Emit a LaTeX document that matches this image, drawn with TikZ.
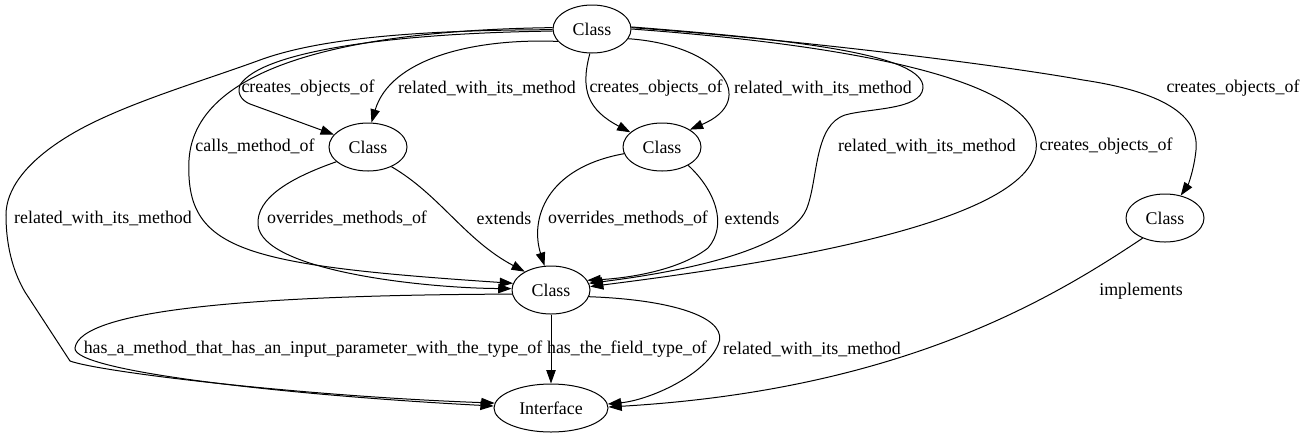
\documentclass[tikz,border=0pt]{standalone}
\usepackage{fontspec}
\setmainfont{Liberation Serif}
\usetikzlibrary{arrows.meta,shapes.geometric}
\tikzset{
  cls/.style={draw, ellipse, line width=0.75pt, minimum width=58.5pt, minimum height=36pt, inner sep=0pt, font=\fontsize{13.4}{16}\selectfont},
  lbl/.style={inner sep=0pt, font=\fontsize{13.4}{16}\selectfont},
  rel/.style={line width=0.75pt, -{Triangle[length=10pt,width=7pt]}},
}
\begin{document}
\begin{tikzpicture}[x=0.75pt,y=-0.75pt]
    \useasboundingbox (0,0) rectangle (1306,437);
    \node[cls] (tp) at (592,29) {Class};
    \node[cls] (lc) at (368,147) {Class};
    \node[cls] (mc) at (662,147) {Class};
    \node[cls] (rc) at (1165,218) {Class};
    \node[cls] (cc) at (551,290) {Class};
    \node[cls, minimum width=85.5pt] (ifc) at (551,408) {Interface};
    \foreach \n/\x/\y/\t in {1/308/88/creates\_objects\_of, 2/487/88/related\_with\_its\_method,
        3/656/88/creates\_objects\_of, 4/823/88/related\_with\_its\_method,
        5/255/146/calls\_method\_of, 6/927/146/related\_with\_its\_method,
        7/1106/146/creates\_objects\_of, 8/1233/88/creates\_objects\_of,
        9/103/218/related\_with\_its\_method, 10/347/218/overrides\_methods\_of,
        11/504/218/extends, 12/628/218/overrides\_methods\_of, 13/752/218/extends,
        14/1141/291/implements, 15/313/349/has\_a\_method\_that\_has\_an\_input\_parameter\_with\_the\_type\_of,
        16/627/349/has\_the\_field\_type\_of, 17/812/349/related\_with\_its\_method}
        \node[lbl] (l\n) at (\x,\y) {\t};
    % from the top class
    \draw[rel] (tp.183) .. controls (400,33) and (262,50) .. (240,85) .. controls (236,96) and (245,102) .. (250,104) -- (lc.160);
    \draw[rel] (tp.200) .. controls (470,38) and (390,60) .. (lc.82);
    \draw[rel] (tp.265) .. controls (580,90) and (588,110) .. (mc.155);
    \draw[rel] (tp.345) .. controls (720,45) and (760,100) .. (mc.32);
    \draw[rel] (tp.178) .. controls (370,30) and (195,60) .. (189,160) .. controls (185,250) and (240,265) .. (cc.170);
    \draw[rel] (tp.3) .. controls (800,40) and (925,55) .. (923,88) .. controls (921,110) and (870,108) .. (845,115)
        .. controls (815,125) and (818,175) .. (808,205) .. controls (795,250) and (680,272) .. (cc.10);
    \draw[rel] (tp.0) .. controls (850,45) and (1045,80) .. (1036,150) .. controls (1025,230) and (720,270) .. (cc.5);
    \draw[rel] (tp.2) .. controls (800,40) and (1000,65) .. (1083,80) .. controls (1150,90) and (1200,110) .. (1196,150)
        .. controls (1194,170) and (1188,185) .. (rc.55);
    \draw[rel] (tp.181) .. controls (420,30) and (320,38) .. (260,60) .. controls (200,82) and (120,105) .. (70,135)
        .. controls (25,162) and (6,190) .. (6,215) .. controls (6,250) and (15,275) .. (25,292) -- (70,361)
        .. controls (100,372) and (300,396) .. (ifc.175);
    % into the centre class
    \draw[rel] (lc.205) .. controls (290,178) and (256,198) .. (258,225) .. controls (262,270) and (420,288) .. (cc.178);
    \draw[rel] (lc.320) .. controls (440,195) and (465,240) .. (cc.145);
    \draw[rel] (mc.190) .. controls (545,168) and (530,220) .. (cc.105);
    \draw[rel] (mc.325) .. controls (715,190) and (728,225) .. (708,248) .. controls (680,270) and (630,278) .. (cc.15);
    % into the interface
    \draw[rel] (rc.222) .. controls (1050,300) and (900,390) .. (ifc.1);
    \draw[rel] (cc.186) .. controls (250,295) and (80,310) .. (75,348) .. controls (72,372) and (300,396) .. (ifc.178);
    \draw[rel] (cc.south) -- (ifc.north);
    \draw[rel] (cc.350) .. controls (680,300) and (730,320) .. (718,345) .. controls (705,375) and (650,400) .. (ifc.4);
\end{tikzpicture}
\end{document}
